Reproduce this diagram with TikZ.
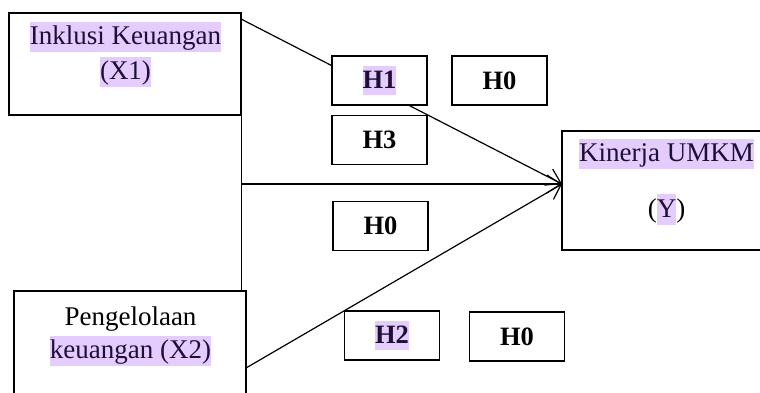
\documentclass[tikz,border=0pt]{standalone}
\usepackage{fontspec}
\setmainfont{Liberation Serif}
\usetikzlibrary{arrows.meta}
\definecolor{hlpurple}{RGB}{229,204,255}
\definecolor{hlink}{RGB}{30,16,52}
\newcommand{\hl}[1]{{\setlength{\fboxsep}{0pt}\colorbox{hlpurple}{\rule[-0.27em]{0pt}{1.12em}\color{hlink}#1}}}

\begin{document}
\begin{tikzpicture}[x=1pt, y=-1pt,
	varbox/.style={draw, line width=1.2pt, inner sep=0pt},
	hbox/.style={draw, line width=1.2pt, fill=white, inner sep=0pt,
		minimum width=95pt, minimum height=49pt,
		font=\fontsize{26.5}{30}\selectfont\bfseries},
	lbl/.style={align=center, inner sep=0pt, font=\fontsize{27}{35}\selectfont},
	link/.style={line width=1.2pt, -{Straight Barb[length=14pt, width=18pt]}}]
		\clip (0, 0) rectangle (760, 393);

		% variable boxes
		\node[varbox, minimum width=232pt, minimum height=102pt] (x1) at (125, 64) {};
		\node[varbox, minimum width=232pt, minimum height=130pt] (x2) at (130, 356) {};
		\node[varbox, minimum width=209pt, minimum height=119pt] (y) at (666.5, 190.5) {};

		\node[lbl] (x1txt) at (125.5, 54.5) {\hl{Inklusi Keuangan}\\\hl{(X1)}};
		\node[lbl, font=\fontsize{27}{33.5}\selectfont] (x2txt) at (130.5, 336.5)
			{Pengelolaan\\\hl{keuangan (X2)}};
		\node[lbl] (ytop) at (666.5, 154) {\hl{Kinerja UMKM}};
		\node[lbl] (ybot) at (666.5, 209.5) {(\hl{Y})};

		% paths
		\coordinate (yin) at (562, 184);
		\coordinate (x1out) at (241, 19);
		\coordinate (x2out) at (246, 368);
		\draw[link] (x1out) -- (yin);
		\draw[line width=1.2pt] (x1.east) -- (x1.east |- x2.north);
		\draw[link] (x1.east |- yin) -- (yin);
		\draw[link] (x2out) -- (yin);

		% hypotheses
		\node[hbox] (h1) at (379.5, 80.5) {\hl{H1}};
		\node[hbox] (h0a) at (499.5, 80.5) {H0};
		\node[hbox] (h3) at (379.5, 140) {H3};
		\node[hbox] (h0b) at (380.5, 226) {H0};
		\node[hbox] (h2) at (392, 335.5) {\hl{H2}};
		\node[hbox] (h0c) at (517, 336.5) {H0};
	\end{tikzpicture}
\end{document}
